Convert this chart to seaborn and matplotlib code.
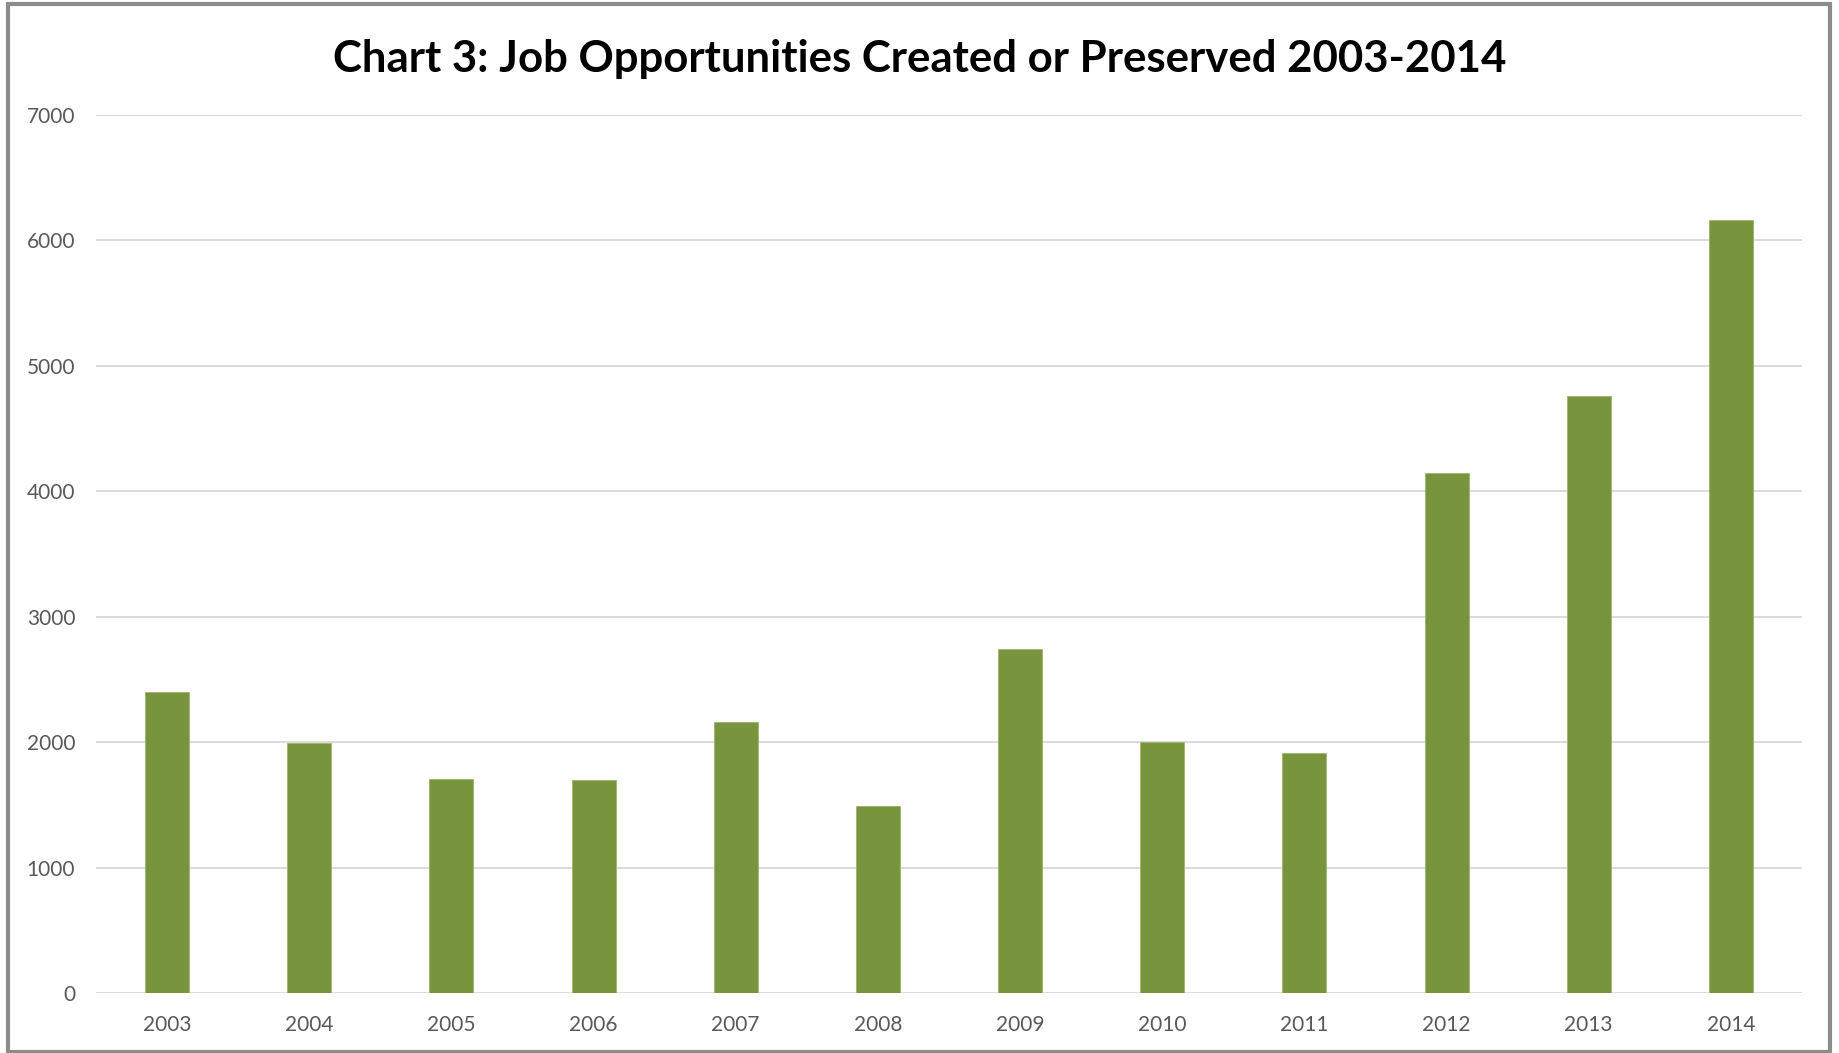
import matplotlib
matplotlib.use("Agg")
import matplotlib.pyplot as plt
import matplotlib.patches as mpatches
import seaborn as sns
import pandas as pd

# Job opportunities created or preserved per year
years = ["2003", "2004", "2005", "2006", "2007", "2008",
         "2009", "2010", "2011", "2012", "2013", "2014"]
jobs = [2397, 1995, 1706, 1696, 2158, 1490,
        2742, 2003, 1913, 4143, 4760, 6163]
y_ticks = [0, 1000, 2000, 3000, 4000, 5000, 6000, 7000]
title_text = "Chart 3: Job Opportunities Created or Preserved 2003-2014"

df = pd.DataFrame({"year": years, "jobs": jobs})

sns.set_theme(style="white")
plt.rcParams["font.family"] = ["Lato", "DejaVu Sans"]

fig = plt.figure(figsize=(18.39, 10.53), dpi=100)
ax = fig.add_axes([96 / 1839, 1 - 993 / 1053, (1802 - 96) / 1839, (993 - 115) / 1053])

sns.barplot(data=df, x="year", y="jobs", color="#78943C", width=0.31,
            saturation=1, ax=ax, zorder=3, edgecolor="#9db56a", linewidth=0.6)

ax.set_ylim(0, 7000)
ax.set_xlim(-0.5, len(years) - 0.5)
ax.set_yticks(y_ticks)
ax.set_yticklabels([str(t) for t in y_ticks])
ax.set_xlabel("")
ax.set_ylabel("")
for s in ax.spines.values():
    s.set_visible(False)
ax.yaxis.grid(True, color="#d9d9d9", linewidth=1.3, zorder=0)
ax.set_axisbelow(True)
ax.tick_params(axis="both", length=0, labelsize=15, labelcolor="#595959")
ax.tick_params(axis="y", pad=15)
ax.tick_params(axis="x", pad=16)

# Title, sized to span its target width
t = fig.text(0.5, 0.932, title_text, ha="center", va="baseline",
             fontsize=36, fontweight="bold", color="#000000")
fig.canvas.draw()
w = t.get_window_extent(renderer=fig.canvas.get_renderer()).width
t.set_fontsize(36 * 1173 / w)

# Outer chart frame
frame = mpatches.Rectangle((8 / 1839, 1 / 1053), (1830 - 8) / 1839, (1049 - 1) / 1053,
                           transform=fig.transFigure, fill=False,
                           edgecolor="#8c8c8c", linewidth=3)
fig.patches.append(frame)

fig.savefig("out.png", dpi=100, facecolor="white")
